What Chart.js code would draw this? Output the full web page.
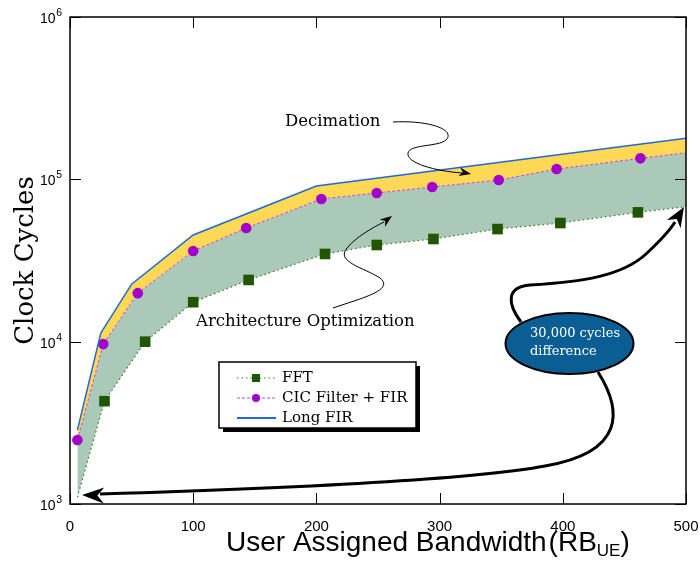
<!DOCTYPE html>
<html>
<head>
<meta charset="utf-8">
<script src="https://cdn.jsdelivr.net/npm/chart.js@4.4.1/dist/chart.umd.min.js"></script>
<style>
  html, body { margin: 0; padding: 0; background: #fff; }
  #wrap { width: 700px; height: 563px; }
</style>
</head>
<body>
<div id="wrap"><canvas id="chart" width="700" height="563"></canvas></div>
<script>
// values (x = RB_UE, y = clock cycles)
const longFirX = [6, 25, 50, 100, 200, 500];
const longFirY = [2850, 11300, 22600, 45400, 90900, 179000];

const cicX = [6, 27, 55, 100, 143, 204, 249, 294, 348, 395, 463, 500];
const cicY = [2480, 9660, 19900, 36200, 50100, 75700, 82400, 89700, 99000, 115700, 134700, 145800];

const fftX = [6, 28, 61, 100, 145, 207, 249, 295, 347, 398, 461, 500];
const fftY = [1100, 4300, 10000, 17500, 24000, 34700, 39400, 42900, 49400, 53800, 62600, 67800];

const xTicks = [0, 100, 200, 300, 400, 500];
const yTickExp = [3, 4, 5, 6];

const SERIF = '"DejaVu Serif", "Liberation Serif", serif';
const SANS = '"Liberation Sans", Arial, sans-serif';

const pts = (xs, ys) => xs.map((x, i) => ({ x: x, y: ys[i] }));

// =======================
// arrow helpers
// =======================
function arrowHead(ctx, tx, ty, ang, len, half) {
  ctx.save();
  ctx.translate(tx, ty);
  ctx.rotate(ang);
  ctx.beginPath();
  ctx.moveTo(0, 0);
  ctx.lineTo(-len, -half);
  ctx.lineTo(-len * 0.7, 0);
  ctx.lineTo(-len, half);
  ctx.closePath();
  ctx.fill();
  ctx.restore();
}

function putText(ctx, txt, x, y) {
  ctx.fillText(txt, x, y);
  return ctx.measureText(txt).width;
}

// =======================
// frame, ticks, titles, legend, notes
// =======================
const decor = {
  id: 'decor',
  afterDraw(chart) {
    const ctx = chart.ctx;
    const a = chart.chartArea;
    const xs = chart.scales.x;
    const ys = chart.scales.y;
    ctx.save();

    // frame
    ctx.strokeStyle = '#000';
    ctx.lineWidth = 1.5;
    ctx.strokeRect(a.left, a.top, a.right - a.left, a.bottom - a.top);

    // inward ticks
    ctx.lineWidth = 1;
    const tl = 11;
    ctx.beginPath();
    xTicks.forEach(v => {
      const px = Math.round(xs.getPixelForValue(v)) + 0.5;
      ctx.moveTo(px, a.bottom); ctx.lineTo(px, a.bottom - tl);
      ctx.moveTo(px, a.top); ctx.lineTo(px, a.top + tl);
    });
    yTickExp.forEach(e => {
      const py = Math.round(ys.getPixelForValue(Math.pow(10, e))) + 0.5;
      ctx.moveTo(a.left, py); ctx.lineTo(a.left + tl, py);
      ctx.moveTo(a.right, py); ctx.lineTo(a.right - tl, py);
    });
    ctx.stroke();

    // y tick labels 10^n
    ctx.fillStyle = '#000';
    ctx.textAlign = 'right';
    ctx.textBaseline = 'alphabetic';
    yTickExp.forEach(e => {
      const py = ys.getPixelForValue(Math.pow(10, e));
      ctx.font = '10.5px ' + SANS;
      const sup = String(e);
      const sw = ctx.measureText(sup).width;
      ctx.fillText(sup, 62, py - 1);
      ctx.font = '14px ' + SANS;
      ctx.fillText('10', 62 - sw - 0.5, py + 6);
    });

    // y title
    ctx.save();
    ctx.translate(33, (a.top + a.bottom) / 2);
    ctx.rotate(-Math.PI / 2);
    ctx.textAlign = 'center';
    ctx.font = '26px ' + SERIF;
    ctx.fillText('Clock Cycles', 0, 0);
    ctx.restore();

    // x title with subscript
    ctx.textAlign = 'left';
    ctx.font = '28px ' + SANS;
    let cx = 226;
    const by = 551;
    cx += putText(ctx, 'User Assigned Bandwidth', cx, by) + 2;
    cx += putText(ctx, '(RB', cx, by);
    ctx.font = '17px ' + SANS;
    cx += putText(ctx, 'UE', cx, by + 5);
    ctx.font = '28px ' + SANS;
    putText(ctx, ')', cx, by);

    // legend box with shadow
    const lg = { x: 219, y: 362, w: 197, h: 66 };
    ctx.fillStyle = '#000';
    ctx.fillRect(lg.x + 4, lg.y + 4, lg.w, lg.h);
    ctx.fillStyle = '#fff';
    ctx.fillRect(lg.x, lg.y, lg.w, lg.h);
    ctx.strokeStyle = '#000';
    ctx.lineWidth = 1.5;
    ctx.strokeRect(lg.x, lg.y, lg.w, lg.h);

    const order = [2, 1, 0];
    const rows = [378, 398, 418];
    order.forEach((di, k) => {
      const ds = chart.data.datasets[di];
      const ry = rows[k];
      ctx.save();
      ctx.strokeStyle = ds.borderColor;
      ctx.lineWidth = di === 0 ? 2 : ds.borderWidth;
      ctx.setLineDash(ds.borderDash || []);
      ctx.beginPath();
      ctx.moveTo(237, ry); ctx.lineTo(276, ry);
      ctx.stroke();
      ctx.setLineDash([]);
      ctx.fillStyle = ds.pointBackgroundColor || ds.borderColor;
      if (ds.pointStyle === 'rect') {
        ctx.fillRect(252, ry - 4, 8, 8);
      } else if (ds.pointStyle === 'circle') {
        ctx.beginPath(); ctx.arc(256, ry, 4, 0, Math.PI * 2); ctx.fill();
      }
      ctx.restore();
      ctx.fillStyle = '#000';
      ctx.font = '15px ' + SERIF;
      ctx.textBaseline = 'middle';
      ctx.fillText(ds.label, 282, ry);
    });
    ctx.textBaseline = 'alphabetic';

    // annotations
    ctx.fillStyle = '#000';
    ctx.font = '16.5px ' + SERIF;
    ctx.textBaseline = 'middle';
    ctx.fillText('Decimation', 285, 122);
    ctx.fillText('Architecture Optimization', 196, 322);
    ctx.textBaseline = 'alphabetic';

    ctx.strokeStyle = '#000';
    ctx.lineWidth = 1;
    ctx.beginPath();
    ctx.moveTo(393, 122);
    ctx.bezierCurveTo(430, 120, 456, 130, 446, 140);
    ctx.bezierCurveTo(438, 147, 410, 144, 408, 153);
    ctx.bezierCurveTo(406, 163, 435, 171, 462, 173);
    ctx.stroke();
    arrowHead(ctx, 471, 174, Math.atan2(2, 10), 12, 4.5);

    ctx.beginPath();
    ctx.moveTo(333, 308);
    ctx.bezierCurveTo(362, 298, 395, 290, 380, 278);
    ctx.bezierCurveTo(365, 268, 335, 262, 347, 248);
    ctx.bezierCurveTo(356, 237, 372, 228, 384, 222);
    ctx.stroke();
    arrowHead(ctx, 392, 216, Math.atan2(-6, 8), 12, 4.5);

    // thick arrows from the ellipse
    ctx.lineWidth = 3;
    ctx.beginPath();
    ctx.moveTo(521, 322);
    ctx.bezierCurveTo(508, 305, 505, 287, 530, 285);
    ctx.bezierCurveTo(582, 282, 622, 276, 646, 254);
    ctx.bezierCurveTo(661, 240, 670, 230, 675, 222);
    ctx.stroke();
    arrowHead(ctx, 684, 207, Math.atan2(-15, 9), 20, 8);

    ctx.beginPath();
    ctx.moveTo(598, 372);
    ctx.bezierCurveTo(622, 410, 626, 452, 545, 466);
    ctx.bezierCurveTo(470, 480, 300, 488, 100, 494);
    ctx.stroke();
    arrowHead(ctx, 82, 495, Math.PI + Math.atan2(1, 40), 22, 8);

    // ellipse
    ctx.beginPath();
    ctx.ellipse(569.5, 343.5, 64, 30.5, 0, 0, Math.PI * 2);
    ctx.fillStyle = '#0b5e94';
    ctx.fill();
    ctx.lineWidth = 2;
    ctx.strokeStyle = '#000';
    ctx.stroke();
    ctx.fillStyle = '#fff';
    ctx.font = '13px ' + SERIF;
    ctx.textAlign = 'left';
    ctx.textBaseline = 'middle';
    ctx.fillText('30,000 cycles', 530, 334);
    ctx.fillText('difference', 530, 352);

    ctx.restore();
  }
};

const ctx = document.getElementById('chart');

new Chart(ctx, {
  type: 'line',
  data: {
    datasets: [
      {
        label: 'Long FIR',
        data: pts(longFirX, longFirY),
        borderColor: '#1f6ad6',
        borderWidth: 1.5,
        pointRadius: 0,
        fill: false
      },
      {
        label: 'CIC Filter + FIR',
        data: pts(cicX, cicY),
        borderColor: '#d040d0',
        borderWidth: 1,
        borderDash: [3, 2],
        pointStyle: 'circle',
        pointRadius: c => c.dataIndex === cicX.length - 1 ? 0 : 5.3,
        pointBackgroundColor: '#a300cc',
        pointBorderWidth: 0,
        backgroundColor: '#ffd955',
        fill: { target: 0 }
      },
      {
        label: 'FFT',
        data: pts(fftX, fftY),
        borderColor: '#3d7a1c',
        borderWidth: 1.2,
        borderDash: [1.5, 3],
        pointStyle: 'rect',
        pointRadius: c => (c.dataIndex === 0 || c.dataIndex === fftX.length - 1) ? 0 : 7.5,
        pointBackgroundColor: '#215600',
        pointBorderWidth: 0,
        backgroundColor: '#abc9b8',
        fill: { target: 1 }
      }
    ]
  },
  options: {
    responsive: false,
    animation: false,
    layout: { padding: { left: 70, right: 14, top: 17, bottom: 0 } },
    plugins: {
      legend: { display: false },
      tooltip: { enabled: false }
    },
    scales: {
      x: {
        type: 'linear',
        min: 0,
        max: 500,
        afterBuildTicks: s => { s.ticks = xTicks.map(v => ({ value: v })); },
        afterFit: s => { s.height = 59; s.paddingLeft = 0; s.paddingRight = 0; },
        grid: { display: false },
        border: { display: false },
        ticks: {
          color: '#000',
          font: { family: 'Liberation Sans', size: 15 },
          padding: 6,
          maxRotation: 0
        }
      },
      y: {
        type: 'logarithmic',
        min: 1000,
        max: 1000000,
        display: false
      }
    }
  },
  plugins: [decor]
});
</script>
</body>
</html>
